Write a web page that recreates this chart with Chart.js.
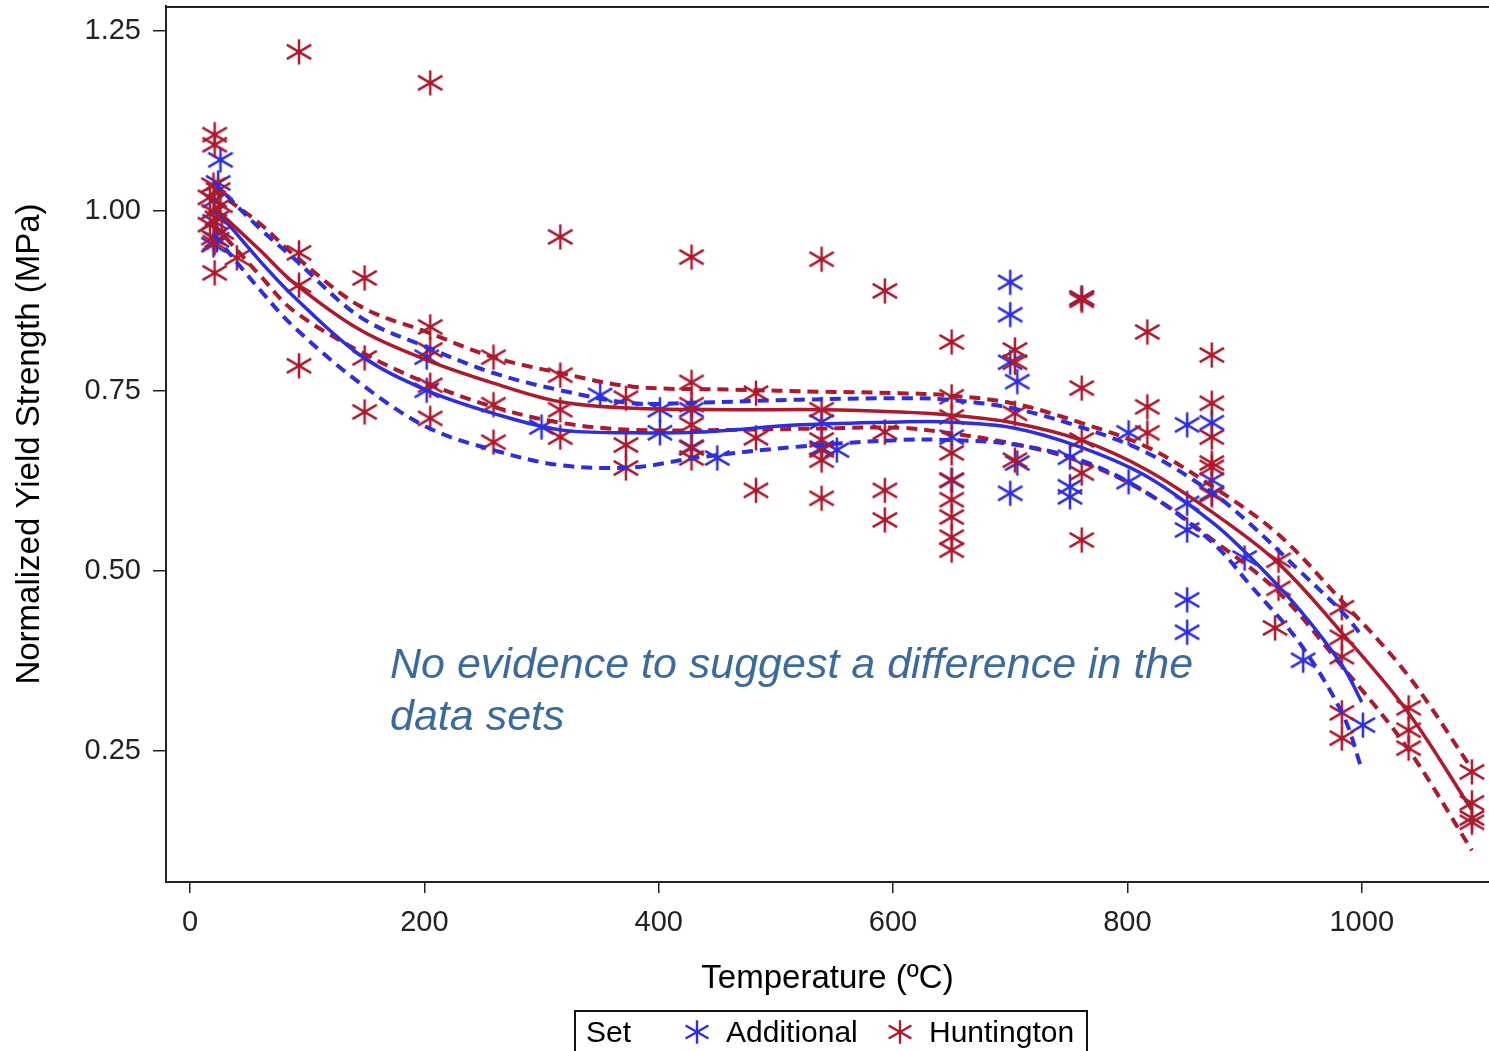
<!DOCTYPE html>
<html><head><meta charset="utf-8">
<script src="https://cdn.jsdelivr.net/npm/chart.js@4.4.1/dist/chart.umd.min.js"></script>
<style>
html,body{margin:0;padding:0;background:#fff;}
#wrap{position:relative;width:1489px;height:1051px;overflow:hidden;}
#note{position:absolute;left:390px;top:637px;font:italic 43px 'Liberation Sans',Arial,sans-serif;line-height:52px;color:#3A6A9E;white-space:nowrap;}
#legend{position:absolute;left:574px;top:1010px;width:514px;height:60px;border:2px solid #111;box-sizing:border-box;font:30px 'Liberation Sans',Arial,sans-serif;color:#000;}
#legend span{position:absolute;top:5px;line-height:30px;white-space:nowrap;}
#legend canvas{position:absolute;}
</style></head>
<body><div id="wrap"><canvas id="c" width="1489" height="1051"></canvas>
<div id="note">No evidence to suggest a difference in the<br>data sets</div>
<div id="legend"></div></div>
<script>
// ---- data ----
const xTicks = [0, 200, 400, 600, 800, 1000];
const yTicks = [0.25, 0.50, 0.75, 1.00, 1.25];
const seriesNames = ['Additional', 'Huntington'];
const legendTitle = 'Set';

// observed points [temperature, normalized yield strength]
const additionalPoints = [
  [26,1.071],[24,1.039],[21,1.015],[21,0.985],[23,0.960],[20,0.953],
  [202,0.797],[202,0.751],[300,0.700],[350,0.744],[401,0.724],[401,0.692],
  [428,0.724],[428,0.672],[450,0.657],[539,0.707],[539,0.671],[552,0.668],
  [650,0.686],[650,0.626],[700,0.901],[700,0.856],[700,0.790],[706,0.763],
  [706,0.650],[700,0.608],[751,0.658],[751,0.617],[751,0.603],[761,0.879],
  [801,0.692],[801,0.624],[851,0.703],[851,0.594],[851,0.557],[872,0.706],
  [872,0.626],[872,0.608],[851,0.460],[851,0.415],[900,0.518],[950,0.376],
  [1001,0.286]
];
const huntingtonPoints = [
  [21,1.106],[21,1.092],[20,1.036],[24,1.029],[17,1.019],[26,1.008],[20,0.999],
  [23,0.990],[17,0.981],[27,0.971],[20,0.963],[21,0.956],[21,0.914],[40,0.935],
  [93,1.221],[93,0.942],[93,0.897],[93,0.785],
  [149,0.907],[149,0.796],[149,0.721],
  [205,1.178],[205,0.839],[205,0.807],[205,0.758],[205,0.712],
  [259,0.797],[259,0.731],[259,0.679],
  [316,0.964],[316,0.772],[316,0.724],[316,0.686],
  [372,0.740],[372,0.675],[372,0.643],
  [428,0.936],[428,0.762],[428,0.731],[428,0.703],[428,0.671],[428,0.657],
  [483,0.747],[483,0.685],[483,0.612],
  [539,0.933],[539,0.724],[539,0.682],[539,0.668],[539,0.654],[539,0.601],
  [593,0.889],[593,0.693],[593,0.612],[593,0.571],
  [650,0.818],[650,0.742],[650,0.714],[650,0.664],[650,0.626],[650,0.599],[650,0.575],[650,0.547],[650,0.529],
  [704,0.807],[704,0.790],[704,0.719],[704,0.654],
  [761,0.879],[761,0.876],[761,0.754],[761,0.682],[761,0.636],[761,0.543],
  [817,0.832],[817,0.728],[817,0.692],
  [872,0.800],[872,0.733],[872,0.686],[872,0.650],[872,0.644],[872,0.606],
  [929,0.515],[929,0.476],[926,0.421],
  [983,0.449],[983,0.408],[983,0.381],[983,0.303],[983,0.268],
  [1040,0.310],[1040,0.279],[1040,0.254],
  [1094,0.221],[1094,0.178],[1094,0.157],[1094,0.151]
];

// fitted curves with confidence limits
const addFitT   = [20,60,88,145,202,259,316,378,435,521,606,646,702,760,817,873,905,947,984,1000];
const addFit    = [1.006,0.930,0.882,0.800,0.751,0.719,0.696,0.692,0.693,0.703,0.707,0.707,0.699,0.672,0.631,0.567,0.519,0.446,0.367,0.318];
const addUpper  = [1.040,0.975,0.935,0.853,0.811,0.775,0.751,0.733,0.734,0.738,0.740,0.738,0.726,0.700,0.664,0.608,0.565,0.500,0.442,0.410];
const addLower  = [0.968,0.890,0.840,0.761,0.700,0.668,0.647,0.644,0.658,0.673,0.682,0.682,0.676,0.654,0.608,0.539,0.480,0.400,0.300,0.225];
const hunFitT   = [20,60,88,145,202,259,316,378,463,540,606,646,702,760,817,873,928,981,1039,1094];
const hunFit    = [1.006,0.945,0.901,0.835,0.793,0.761,0.735,0.726,0.724,0.724,0.721,0.717,0.706,0.682,0.640,0.581,0.512,0.418,0.305,0.168];
const hunUpper  = [1.030,0.982,0.940,0.868,0.832,0.797,0.775,0.756,0.752,0.749,0.747,0.744,0.733,0.706,0.672,0.617,0.552,0.462,0.356,0.225];
const hunLower  = [0.982,0.910,0.862,0.805,0.761,0.728,0.706,0.696,0.696,0.698,0.699,0.692,0.677,0.652,0.608,0.543,0.472,0.372,0.254,0.112];

// ---- styling ----
const BLUE = '#2E2EDC';
const RED = '#AC1A2E';
const FONT = "'Liberation Sans', Arial, sans-serif";

function asterisk(color, size, lw) {
  const c = document.createElement('canvas');
  c.width = size; c.height = size;
  const g = c.getContext('2d');
  g.strokeStyle = color; g.lineWidth = lw;
  const cx = size / 2, cy = size / 2;
  const arms = [[90, size * 0.42], [30, size * 0.47], [-30, size * 0.47]];
  for (const [deg, r] of arms) {
    const a = deg * Math.PI / 180;
    g.beginPath();
    g.moveTo(cx - r * Math.cos(a), cy - r * Math.sin(a));
    g.lineTo(cx + r * Math.cos(a), cy + r * Math.sin(a));
    g.stroke();
  }
  return c;
}
const blueStar = asterisk(BLUE, 30, 2.5);
const redStar = asterisk(RED, 30, 2.5);

const pts = arr => arr.map(([x, y]) => ({x, y}));
const curve = (T, V) => T.map((t, i) => ({x: t, y: V[i]}));
const lineDs = (label, data, color, dashed, order) => ({
  label, data, showLine: true, borderColor: color, backgroundColor: color,
  borderWidth: dashed ? 4 : 3.5, borderDash: dashed ? [11, 7] : [],
  pointRadius: 0, fill: false, tension: 0.35, order
});

const framePlugin = {
  id: 'frame',
  afterDraw(chart) {
    const {ctx, chartArea: a} = chart;
    ctx.save();
    ctx.strokeStyle = '#222'; ctx.lineWidth = 2;
    ctx.beginPath(); ctx.moveTo(a.left, a.top + 1); ctx.lineTo(a.right, a.top + 1); ctx.stroke();
    ctx.restore();
  }
};

new Chart(document.getElementById('c'), {
  type: 'scatter',
  data: {
    datasets: [
      lineDs('Huntington fit', curve(hunFitT, hunFit), RED, false, 0),
      lineDs('Additional fit', curve(addFitT, addFit), BLUE, false, 1),
      lineDs('Additional upper', curve(addFitT, addUpper), BLUE, true, 2),
      lineDs('Additional lower', curve(addFitT, addLower), BLUE, true, 2),
      lineDs('Huntington upper', curve(hunFitT, hunUpper), RED, true, 3),
      lineDs('Huntington lower', curve(hunFitT, hunLower), RED, true, 3),
      {label: seriesNames[1], data: pts(huntingtonPoints), pointStyle: redStar, showLine: false, order: 4, borderColor: RED, backgroundColor: RED},
      {label: seriesNames[0], data: pts(additionalPoints), pointStyle: blueStar, showLine: false, order: 5, borderColor: BLUE, backgroundColor: BLUE}
    ]
  },
  options: {
    responsive: false, animation: false, devicePixelRatio: 1, events: [],
    layout: {autoPadding: false, padding: {top: 6, right: 0, bottom: 0, left: 0}},
    plugins: {legend: {display: false}, tooltip: {enabled: false}},
    scales: {
      x: {
        type: 'linear', min: -20.5, max: 1108.6,
        afterBuildTicks: s => { s.ticks = xTicks.map(v => ({value: v})); },
        ticks: {callback: v => String(v), font: {family: FONT, size: 29}, color: '#222', padding: 13, maxRotation: 0, autoSkip: false},
        grid: {drawOnChartArea: false, drawTicks: true, tickLength: 11, color: '#222', lineWidth: 1.5},
        border: {display: true, color: '#222', width: 2},
        title: {display: true, text: 'Temperature (ºC)', font: {family: FONT, size: 33}, color: '#000', padding: {top: 0, bottom: 52}},
        afterFit: s => { s.height = 169; s.paddingLeft = 0; s.paddingRight = 0; }
      },
      y: {
        type: 'linear', min: 0.0681, max: 1.2847,
        afterBuildTicks: s => { s.ticks = yTicks.map(v => ({value: v})); },
        ticks: {callback: v => Number(v).toFixed(2), font: {family: FONT, size: 29}, color: '#222', padding: 12, autoSkip: false},
        grid: {drawOnChartArea: false, drawTicks: true, tickLength: 13, color: '#222', lineWidth: 1.5},
        border: {display: true, color: '#222', width: 2},
        title: {display: true, text: 'Normalized Yield Strength (MPa)', font: {family: FONT, size: 33}, color: '#000', padding: {top: 10, bottom: 0}},
        afterFit: s => { s.width = 166; s.paddingTop = 0; s.paddingBottom = 0; }
      }
    }
  },
  plugins: [framePlugin]
});

// ---- legend ----
const lg = document.getElementById('legend');
function addText(txt, left) { const s = document.createElement('span'); s.textContent = txt; s.style.left = left + 'px'; lg.appendChild(s); }
function addMarker(color, centerX) { const m = asterisk(color, 28, 2.4); m.style.left = (centerX - 14) + 'px'; m.style.top = (20 - 14) + 'px'; lg.appendChild(m); }
addText(legendTitle, 10);
addMarker(BLUE, 121); addText(seriesNames[0], 150);
addMarker(RED, 324); addText(seriesNames[1], 353);
</script>
</body></html>
